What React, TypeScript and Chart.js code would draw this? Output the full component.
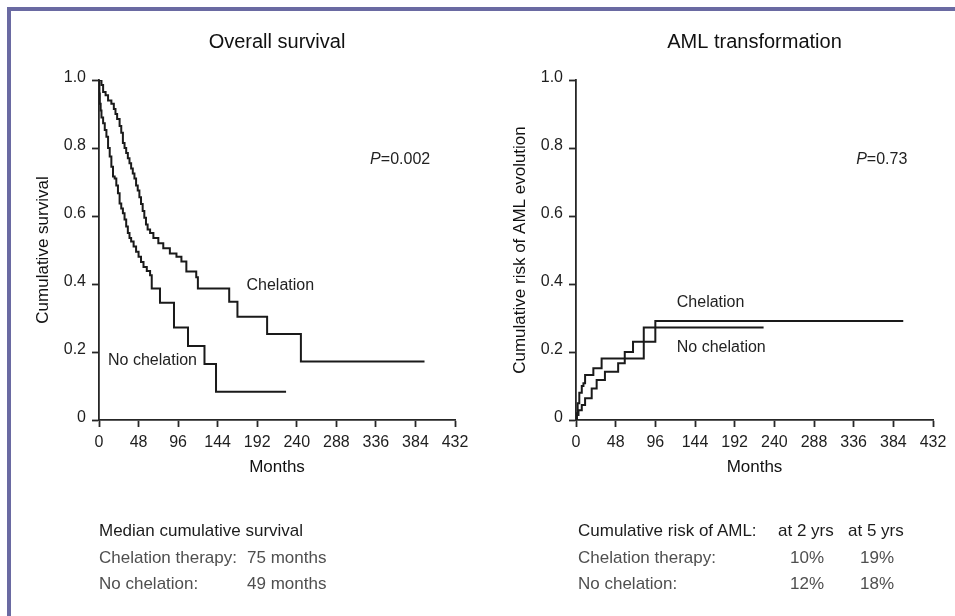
import React, { useEffect, useRef } from 'react';
import { Chart, registerables } from 'chart.js';

Chart.register(...registerables);

// ---------- data ----------
const X_TICKS = [0, 48, 96, 144, 192, 240, 288, 336, 384, 432];
const Y_TICKS = [0, 0.2, 0.4, 0.6, 0.8, 1.0];

// Overall survival (Kaplan-Meier), chelation
const osChelMonths = [0, 3, 5, 8, 11, 15, 18, 20, 22, 25, 27, 29, 31, 33, 35, 37, 39, 41, 43, 45, 47, 49, 51, 53, 55, 57, 59, 62, 66, 72, 78, 86, 94, 100, 106, 118, 120, 158, 168, 204, 245, 395];
const osChelSurv = [1.0, 0.985, 0.965, 0.955, 0.94, 0.93, 0.915, 0.9, 0.885, 0.865, 0.845, 0.815, 0.8, 0.785, 0.77, 0.755, 0.74, 0.725, 0.71, 0.69, 0.675, 0.655, 0.635, 0.615, 0.595, 0.575, 0.56, 0.55, 0.535, 0.52, 0.505, 0.49, 0.48, 0.466, 0.437, 0.42, 0.387, 0.348, 0.304, 0.253, 0.172, 0.172];

// Overall survival, no chelation
const osNoChelMonths = [0, 0.5, 1, 2, 3, 5, 7, 9, 11, 13, 15, 17, 19, 21, 23, 25, 27, 29, 31, 33, 35, 37, 39, 42, 45, 48, 51, 54, 58, 62, 64, 74, 91, 108, 128, 142, 227];
const osNoChelSurv = [1.0, 0.96, 0.93, 0.91, 0.89, 0.873, 0.853, 0.833, 0.8, 0.775, 0.745, 0.716, 0.71, 0.69, 0.667, 0.637, 0.622, 0.608, 0.59, 0.569, 0.55, 0.535, 0.525, 0.51, 0.495, 0.48, 0.465, 0.45, 0.438, 0.426, 0.387, 0.345, 0.272, 0.218, 0.165, 0.083, 0.083];

// AML transformation (cumulative risk), chelation
const amlChelMonths = [0, 1, 3, 7, 11, 19, 25, 35, 51, 59, 69, 96, 396];
const amlChelRisk = [0, 0.015, 0.029, 0.044, 0.064, 0.093, 0.118, 0.142, 0.167, 0.2, 0.23, 0.291, 0.291];

// AML transformation, no chelation
const amlNoChelMonths = [0, 1, 2, 4, 7, 9, 11, 21, 31, 82, 227];
const amlNoChelRisk = [0, 0.02, 0.049, 0.08, 0.1, 0.108, 0.132, 0.152, 0.181, 0.272, 0.272];

// summary tables
const SURV_HEAD = 'Median cumulative survival';
const SURV_ROWS = [
  ['Chelation therapy:', '75 months'],
  ['No chelation:', '49 months'],
];
const AML_HEAD = ['Cumulative risk of AML:', 'at 2 yrs', 'at 5 yrs'];
const AML_ROWS = [
  ['Chelation therapy:', '10%', '19%'],
  ['No chelation:', '12%', '18%'],
];

// ---------- styling ----------
const FONT = '"Liberation Sans", Arial, Helvetica, sans-serif';
const INK = '#1a1a1a';
const AXIS = '#262626';

type Part = { text: string; italic?: boolean };
type Label = { x: number; y: number; parts: Part[]; size: number };

function makeLabelPlugin(items: Label[]) {
  return {
    id: 'kmLabels',
    afterDatasetsDraw(chart: any) {
      const { ctx, scales } = chart;
      ctx.save();
      ctx.textBaseline = 'middle';
      ctx.textAlign = 'left';
      ctx.fillStyle = '#222';
      for (const it of items) {
        let x = scales.x.getPixelForValue(it.x);
        const y = scales.y.getPixelForValue(it.y);
        for (const p of it.parts) {
          ctx.font = `${p.italic ? 'italic ' : ''}${it.size}px ${FONT}`;
          ctx.fillText(p.text, x, y);
          x += ctx.measureText(p.text).width;
        }
      }
      ctx.restore();
    },
  };
}

type Cfg = {
  title: string;
  yTitle: string;
  padLeft: number;
  padRight: number;
  series: { months: number[]; values: number[] }[];
  labels: Label[];
};

function makeChart(canvas: HTMLCanvasElement, cfg: Cfg) {
  return new Chart(canvas, {
    type: 'line',
    data: {
      datasets: cfg.series.map((s) => ({
        data: s.months.map((m, i) => ({ x: m, y: s.values[i] })),
        borderColor: INK,
        borderWidth: 2,
        pointRadius: 0,
        stepped: 'before' as const,
        fill: false,
        tension: 0,
      })),
    },
    options: {
      responsive: false,
      animation: false,
      events: [],
      layout: { padding: { left: cfg.padLeft, right: cfg.padRight, top: 10, bottom: 136 } },
      plugins: {
        legend: { display: false },
        tooltip: { enabled: false },
        title: {
          display: true,
          text: cfg.title,
          fullSize: false,
          color: '#111',
          font: { family: FONT, size: 20, weight: 'normal' },
          padding: { top: 20, bottom: 26 },
        },
      },
      scales: {
        x: {
          type: 'linear',
          min: 0,
          max: 432,
          afterBuildTicks: (s: any) => {
            s.ticks = X_TICKS.map((v) => ({ value: v }));
          },
          afterFit: (s: any) => {
            s.height = 60;
          },
          grid: { drawOnChartArea: false, drawTicks: true, tickLength: 7, color: AXIS, tickColor: AXIS, tickWidth: 1.8 },
          border: { display: true, color: AXIS, width: 1.8 },
          ticks: {
            color: '#1e1e1e',
            font: { family: FONT, size: 16 },
            padding: 6,
            maxRotation: 0,
            autoSkip: false,
            callback: (v: any) => String(v),
          },
          title: {
            display: true,
            text: 'Months',
            color: '#111',
            font: { family: FONT, size: 17 },
            padding: { top: 0, bottom: 2 },
          },
        },
        y: {
          type: 'linear',
          min: 0,
          max: 1,
          afterBuildTicks: (s: any) => {
            s.ticks = Y_TICKS.map((v) => ({ value: v }));
          },
          afterFit: (s: any) => {
            s.width = 99;
          },
          grid: { drawOnChartArea: false, drawTicks: true, tickLength: 7, color: AXIS, tickColor: AXIS, tickWidth: 1.8 },
          border: { display: true, color: AXIS, width: 1.8 },
          ticks: {
            color: '#1e1e1e',
            font: { family: FONT, size: 16 },
            padding: 6,
            labelOffset: -2,
            callback: (v: any) => (Number(v) === 0 ? '0' : Number(v).toFixed(1)),
          },
          title: {
            display: true,
            text: cfg.yTitle,
            color: '#111',
            font: { family: FONT, size: 17 },
            padding: { top: 33, bottom: 0 },
          },
        },
      },
    } as any,
    plugins: [makeLabelPlugin(cfg.labels)],
  });
}

const leftCfg: Cfg = {
  title: 'Overall survival',
  yTitle: 'Cumulative survival',
  padLeft: 0,
  padRight: 500,
  series: [
    { months: osChelMonths, values: osChelSurv },
    { months: osNoChelMonths, values: osNoChelSurv },
  ],
  labels: [
    { x: 329, y: 0.765, size: 16, parts: [{ text: 'P', italic: true }, { text: '=0.002' }] },
    { x: 179, y: 0.394, size: 16, parts: [{ text: 'Chelation' }] },
    { x: 11, y: 0.176, size: 16, parts: [{ text: 'No chelation' }] },
  ],
};

const rightCfg: Cfg = {
  title: 'AML transformation',
  yTitle: 'Cumulative risk of AML evolution',
  padLeft: 477,
  padRight: 22,
  series: [
    { months: amlChelMonths, values: amlChelRisk },
    { months: amlNoChelMonths, values: amlNoChelRisk },
  ],
  labels: [
    { x: 339, y: 0.765, size: 16, parts: [{ text: 'P', italic: true }, { text: '=0.73' }] },
    { x: 122, y: 0.345, size: 16, parts: [{ text: 'Chelation' }] },
    { x: 122, y: 0.214, size: 16, parts: [{ text: 'No chelation' }] },
  ],
};

const ROW_TOPS = [521, 547.5, 574];

const txt = (left: number, top: number, color: string, content: string, extra: any = {}) => (
  <div
    style={{
      position: 'absolute',
      left,
      top,
      color,
      fontSize: 17,
      lineHeight: '20px',
      whiteSpace: 'nowrap',
      ...extra,
    }}
  >
    {content}
  </div>
);

export default function App() {
  const leftRef = useRef<HTMLCanvasElement>(null);
  const rightRef = useRef<HTMLCanvasElement>(null);

  useEffect(() => {
    const a = makeChart(leftRef.current!, leftCfg);
    const b = makeChart(rightRef.current!, rightCfg);
    return () => {
      a.destroy();
      b.destroy();
    };
  }, []);

  const dark = '#1c1c1c';
  const gray = '#4f4f4f';

  return (
    <div
      style={{
        position: 'absolute',
        left: 0,
        top: 0,
        width: 955,
        height: 616,
        background: '#ffffff',
        overflow: 'hidden',
        fontFamily: FONT,
      }}
    >
      <div
        style={{
          position: 'absolute',
          left: 7,
          top: 7,
          right: 0,
          bottom: 0,
          borderTop: '4px solid #6a6aa2',
          borderLeft: '4px solid #6a6aa2',
        }}
      />
      <canvas ref={leftRef} width={955} height={616} style={{ position: 'absolute', left: 0, top: 0, width: 955, height: 616 }} />
      <canvas ref={rightRef} width={955} height={616} style={{ position: 'absolute', left: 0, top: 0, width: 955, height: 616 }} />

      {txt(99, ROW_TOPS[0], dark, SURV_HEAD)}
      {SURV_ROWS.map((r, i) => (
        <React.Fragment key={'s' + i}>
          {txt(99, ROW_TOPS[i + 1], gray, r[0])}
          {txt(247, ROW_TOPS[i + 1], gray, r[1])}
        </React.Fragment>
      ))}

      {txt(578, ROW_TOPS[0], dark, AML_HEAD[0])}
      {txt(778, ROW_TOPS[0], dark, AML_HEAD[1])}
      {txt(848, ROW_TOPS[0], dark, AML_HEAD[2])}
      {AML_ROWS.map((r, i) => (
        <React.Fragment key={'a' + i}>
          {txt(578, ROW_TOPS[i + 1], gray, r[0])}
          {txt(776, ROW_TOPS[i + 1], gray, r[1], { width: 62, textAlign: 'center' })}
          {txt(846, ROW_TOPS[i + 1], gray, r[2], { width: 62, textAlign: 'center' })}
        </React.Fragment>
      ))}
    </div>
  );
}
